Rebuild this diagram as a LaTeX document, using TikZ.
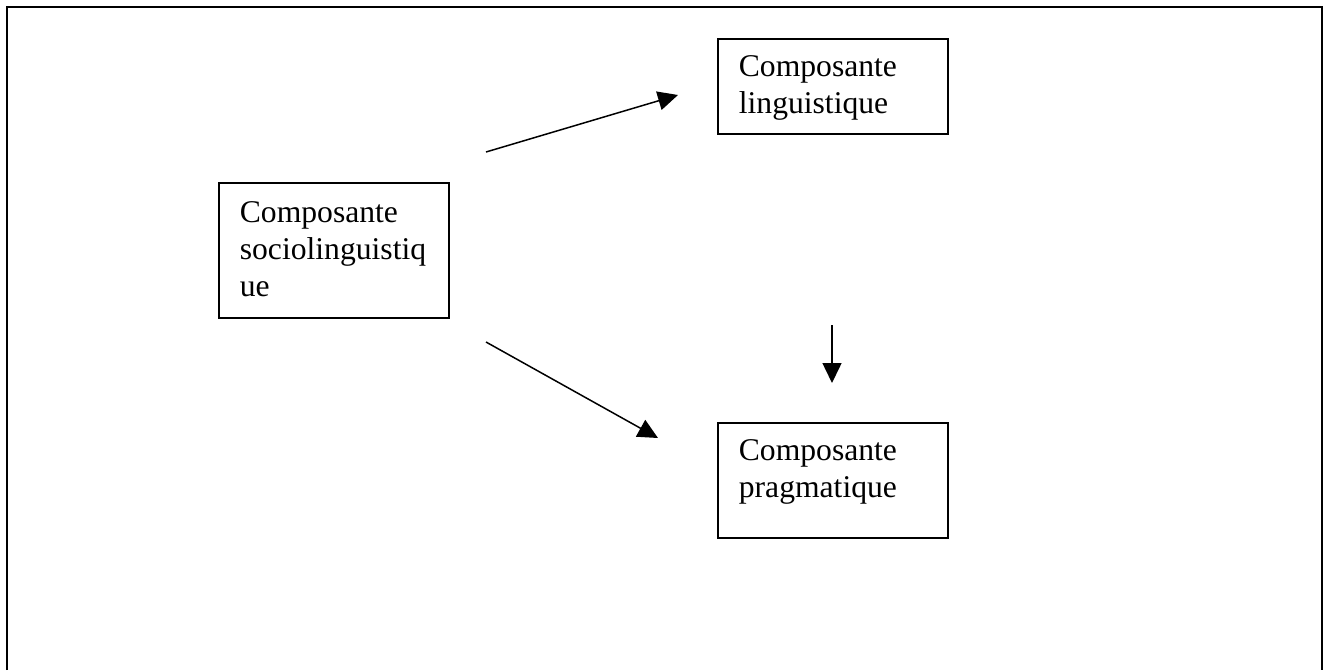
\documentclass[tikz,border=0pt]{standalone}
\usepackage{fontspec}
\setmainfont{Liberation Serif}
\usetikzlibrary{arrows.meta}

\tikzset{
  compbox/.style={draw, line width=1pt, anchor=north west, inner xsep=0.42cm, inner ysep=0pt,
    text width=3.76cm, align=left, font=\fontsize{18}{21}\selectfont, text height=0.76cm},
  flow/.style={line width=0.85pt, -{Triangle[length=0.4cm,width=0.38cm]}}
}

\begin{document}
\begin{tikzpicture}[x=0.02cm,y=-0.02cm]
\useasboundingbox (0,0) rectangle (1329,670);

% Frame
\draw[line width=1.3pt] (7,670) -- (7,7) -- (1322,7) -- (1322,670);

% Boxes
\node[compbox, text height=0.8cm, text depth=1.9cm] (socio) at (218,182) {Composante\\sociolinguistiq\\ue};
\node[compbox, text depth=1.14cm] (ling) at (717,38) {Composante\\linguistique};
\node[compbox, text depth=1.54cm] (prag) at (717,422) {Composante\\pragmatique};

% Arrow ends
\coordinate (sociotop) at (486,152);
\coordinate (lingin) at (678,95);
\coordinate (sociobot) at (486,342);
\coordinate (pragin) at (658,438);
\coordinate (downtop) at (832,325);
\coordinate (downtip) at (832,383);

% Arrows
\draw[flow] (sociotop) -- (lingin);
\draw[flow] (sociobot) -- (pragin);
\draw[flow] (downtop) -- (downtip);
\end{tikzpicture}
\end{document}
